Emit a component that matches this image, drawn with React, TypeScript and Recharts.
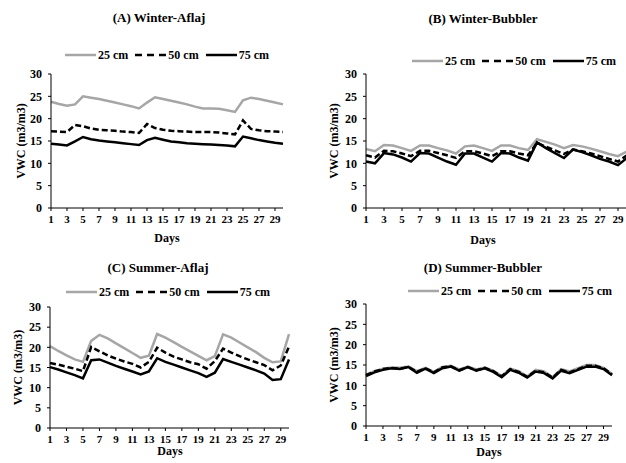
import { LineChart, Line, XAxis, YAxis, Legend } from "recharts";

const days = [1, 2, 3, 4, 5, 6, 7, 8, 9, 10, 11, 12, 13, 14, 15, 16, 17, 18, 19, 20, 21, 22, 23, 24, 25, 26, 27, 28, 29, 30];
const yTicks = [0, 5, 10, 15, 20, 25, 30];

// (A) Winter-Aflaj
const winterAflaj25 = [23.8, 23.3, 22.9, 23.2, 25.0, 24.7, 24.4, 24.0, 23.6, 23.2, 22.8, 22.3, 23.6, 24.8, 24.4, 24.0, 23.6, 23.2, 22.7, 22.3, 22.3, 22.2, 21.9, 21.5, 24.1, 24.7, 24.4, 24.0, 23.6, 23.2];
const winterAflaj50 = [17.2, 17.1, 17.0, 18.6, 18.3, 17.8, 17.5, 17.4, 17.3, 17.1, 17.0, 16.8, 18.8, 17.9, 17.5, 17.3, 17.2, 17.1, 17.0, 17.0, 17.0, 16.9, 16.7, 16.5, 19.6, 17.7, 17.4, 17.2, 17.1, 17.0];
const winterAflaj75 = [14.4, 14.2, 14.0, 14.9, 15.9, 15.4, 15.1, 14.9, 14.7, 14.5, 14.3, 14.1, 15.2, 15.7, 15.3, 14.9, 14.7, 14.5, 14.4, 14.3, 14.2, 14.1, 14.0, 13.8, 16.0, 15.6, 15.2, 14.9, 14.6, 14.4];

// (B) Winter-Bubbler
const winterBubbler25 = [13.2, 12.7, 14.1, 14.0, 13.4, 12.8, 14.0, 14.0, 13.4, 12.9, 12.2, 13.8, 14.0, 13.4, 12.8, 14.0, 14.0, 13.4, 13.0, 15.4, 14.8, 14.2, 13.4, 14.1, 13.8, 13.3, 12.7, 12.1, 11.6, 12.7];
const winterBubbler50 = [11.8, 11.3, 12.8, 12.7, 12.2, 11.6, 12.8, 12.8, 12.3, 11.8, 11.2, 12.7, 12.7, 12.2, 11.6, 12.7, 12.7, 12.2, 11.8, 14.6, 13.7, 12.9, 12.1, 13.1, 12.7, 12.2, 11.6, 11.0, 10.4, 11.8];
const winterBubbler75 = [10.4, 10.0, 12.3, 12.0, 11.3, 10.4, 12.3, 12.2, 11.3, 10.4, 9.7, 12.2, 12.2, 11.3, 10.4, 12.3, 12.2, 11.3, 10.6, 14.7, 13.4, 12.3, 11.2, 13.1, 12.5, 11.8, 11.0, 10.4, 9.6, 11.2];

// (C) Summer-Aflaj
const summerAflaj25 = [20.3, 19.1, 18.0, 17.0, 16.4, 21.6, 23.1, 22.2, 21.0, 19.8, 18.6, 17.4, 17.9, 23.3, 22.4, 21.3, 20.1, 19.0, 17.9, 16.8, 17.8, 23.2, 22.4, 21.2, 20.0, 18.8, 17.4, 16.3, 16.5, 23.3];
const summerAflaj50 = [16.1, 15.7, 15.2, 14.7, 14.1, 20.1, 19.0, 18.0, 17.2, 16.5, 15.9, 15.0, 16.4, 19.9, 18.7, 17.7, 17.0, 16.3, 15.8, 14.7, 16.6, 19.7, 18.7, 17.8, 17.0, 16.3, 15.6, 14.3, 15.5, 20.2];
const summerAflaj75 = [15.1, 14.5, 13.8, 13.1, 12.3, 16.8, 17.0, 16.2, 15.4, 14.7, 14.0, 13.3, 14.0, 17.3, 16.4, 15.7, 15.0, 14.3, 13.6, 12.7, 13.7, 17.1, 16.4, 15.7, 15.0, 14.3, 13.5, 11.9, 12.1, 17.0];

// (D) Summer-Bubbler
const summerBubbler25 = [12.6, 13.5, 14.1, 14.4, 14.3, 14.6, 13.5, 14.3, 13.3, 14.5, 14.8, 13.9, 14.6, 13.9, 14.4, 13.6, 12.3, 14.1, 13.5, 12.2, 13.8, 13.4, 12.0, 14.0, 13.4, 14.2, 15.0, 15.0, 14.3, 12.8];
const summerBubbler50 = [12.5, 13.4, 14.0, 14.3, 14.1, 14.5, 13.3, 14.2, 13.2, 14.4, 14.7, 13.7, 14.5, 13.7, 14.3, 13.5, 12.2, 14.0, 13.3, 12.1, 13.6, 13.2, 11.9, 13.8, 13.2, 14.0, 14.8, 14.8, 14.2, 12.7];
const summerBubbler75 = [12.3, 13.2, 13.8, 14.2, 14.0, 14.5, 13.1, 14.1, 13.0, 14.2, 14.6, 13.6, 14.5, 13.6, 14.2, 13.3, 12.0, 13.8, 13.1, 11.9, 13.4, 13.0, 11.7, 13.6, 13.0, 13.8, 14.6, 14.6, 14.0, 12.5];

const FONT = "'Liberation Serif', 'Times New Roman', serif";

const series = [
  { key: "d25", name: "25 cm", color: "#a6a6a6", dash: undefined, legendDash: undefined },
  { key: "d50", name: "50 cm", color: "#000000", dash: "6 3", legendDash: "7 5" },
  { key: "d75", name: "75 cm", color: "#000000", dash: undefined, legendDash: undefined },
];

function makeData(s25: number[], s50: number[], s75: number[]) {
  return days.map((day, i) => ({ day, d25: s25[i], d50: s50[i], d75: s75[i] }));
}

type PanelDef = {
  title: string;
  data: ReturnType<typeof makeData>;
  box: { left: number; top: number; width: number; height: number };
  plot: { l: number; r: number; t: number; b: number };
  titleX: number;
  titleY: number;
  legendX: number;
  legendY: number;
  yLabelX: number;
  daysX: number;
  daysY: number;
};

const panels: PanelDef[] = [
  {
    title: "(A) Winter-Aflaj",
    data: makeData(winterAflaj25, winterAflaj50, winterAflaj75),
    box: { left: 0, top: 0, width: 313, height: 250 },
    plot: { l: 51, r: 283, t: 74, b: 208 },
    titleX: 159, titleY: 18, legendX: 65, legendY: 55, yLabelX: 21, daysX: 167, daysY: 242,
  },
  {
    title: "(B) Winter-Bubbler",
    data: makeData(winterBubbler25, winterBubbler50, winterBubbler75),
    box: { left: 313, top: 0, width: 320, height: 250 },
    plot: { l: 366, r: 627, t: 74, b: 208 },
    titleX: 483, titleY: 19, legendX: 412, legendY: 61, yLabelX: 334, daysX: 483, daysY: 244,
  },
  {
    title: "(C) Summer-Aflaj",
    data: makeData(summerAflaj25, summerAflaj50, summerAflaj75),
    box: { left: 0, top: 250, width: 313, height: 213 },
    plot: { l: 50, r: 289, t: 307, b: 428 },
    titleX: 158, titleY: 268, legendX: 66, legendY: 292, yLabelX: 18, daysX: 170, daysY: 455,
  },
  {
    title: "(D) Summer-Bubbler",
    data: makeData(summerBubbler25, summerBubbler50, summerBubbler75),
    box: { left: 313, top: 250, width: 313, height: 213 },
    plot: { l: 366, r: 612, t: 304, b: 426 },
    titleX: 483, titleY: 268, legendX: 408, legendY: 291, yLabelX: 334, daysX: 489, daysY: 456,
  },
];

const Y_AXIS_W = 30;
const X_AXIS_H = 30;

const renderLegend = () => (
  <div
    style={{
      display: "flex",
      alignItems: "center",
      fontFamily: FONT,
      fontWeight: "bold",
      fontSize: 12,
      lineHeight: "14px",
      color: "#000",
      whiteSpace: "nowrap",
    }}
  >
    {series.map((s) => (
      <div key={s.key} style={{ display: "flex", alignItems: "center", marginRight: 7 }}>
        <svg width={31} height={6}>
          <line x1={0} y1={3} x2={31} y2={3} stroke={s.color} strokeWidth={2.5} strokeDasharray={s.legendDash} />
        </svg>
        <span style={{ marginLeft: 2 }}>{s.name}</span>
      </div>
    ))}
  </div>
);

function Panel({ p }: { p: PanelDef }) {
  const { box, plot } = p;
  const margin = {
    top: plot.t - box.top,
    left: plot.l - box.left - Y_AXIS_W,
    right: box.left + box.width - plot.r,
    bottom: box.top + box.height - plot.b - X_AXIS_H,
  };
  const midY = (plot.t + plot.b) / 2 - box.top;
  const tickStyle = { fontFamily: FONT, fontWeight: "bold", fontSize: 11, fill: "#000" };

  return (
    <>
      <div
        style={{
          position: "absolute",
          left: p.titleX - 120,
          top: p.titleY - 8,
          width: 240,
          textAlign: "center",
          fontFamily: FONT,
          fontWeight: "bold",
          fontSize: 13,
          lineHeight: "16px",
          color: "#000",
        }}
      >
        {p.title}
      </div>
      <div style={{ position: "absolute", left: box.left, top: box.top }}>
        <LineChart width={box.width} height={box.height} data={p.data} margin={margin}>
          <XAxis
            dataKey="day"
            interval={1}
            height={X_AXIS_H}
            tickSize={3}
            tickMargin={4}
            axisLine={{ stroke: "#000", strokeWidth: 1 }}
            tickLine={{ stroke: "#000" }}
            tick={tickStyle}
            label={() => (
              <text
                x={p.daysX - box.left}
                y={p.daysY - box.top}
                textAnchor="middle"
                fontFamily={FONT}
                fontWeight="bold"
                fontSize={12}
                fill="#000"
              >
                Days
              </text>
            )}
          />
          <YAxis
            width={Y_AXIS_W}
            domain={[0, 30]}
            ticks={yTicks}
            interval={0}
            tickSize={3}
            tickMargin={6}
            axisLine={{ stroke: "#000", strokeWidth: 1 }}
            tickLine={{ stroke: "#000" }}
            tick={{ ...tickStyle, fontSize: 12 }}
            label={() => (
              <text
                x={p.yLabelX - box.left + 4}
                y={midY}
                transform={`rotate(-90 ${p.yLabelX - box.left + 4} ${midY})`}
                textAnchor="middle"
                fontFamily={FONT}
                fontWeight="bold"
                fontSize={12}
                fill="#000"
              >
                VWC (m3/m3)
              </text>
            )}
          />
          <Legend
            layout="horizontal"
            verticalAlign="middle"
            align="center"
            content={renderLegend}
            wrapperStyle={{ left: p.legendX - box.left, top: p.legendY - box.top - 7, width: "auto" }}
          />
          {series.map((s) => (
            <Line
              key={s.key}
              type="linear"
              dataKey={s.key}
              name={s.name}
              stroke={s.color}
              strokeWidth={2.5}
              strokeDasharray={s.dash}
              dot={false}
              activeDot={false}
              isAnimationActive={false}
            />
          ))}
        </LineChart>
      </div>
    </>
  );
}

export default function App() {
  return (
    <div
      style={{
        position: "absolute",
        left: 0,
        top: 0,
        width: 626,
        height: 463,
        overflow: "hidden",
        background: "#fff",
      }}
    >
      {panels.map((p) => (
        <Panel key={p.title} p={p} />
      ))}
    </div>
  );
}
